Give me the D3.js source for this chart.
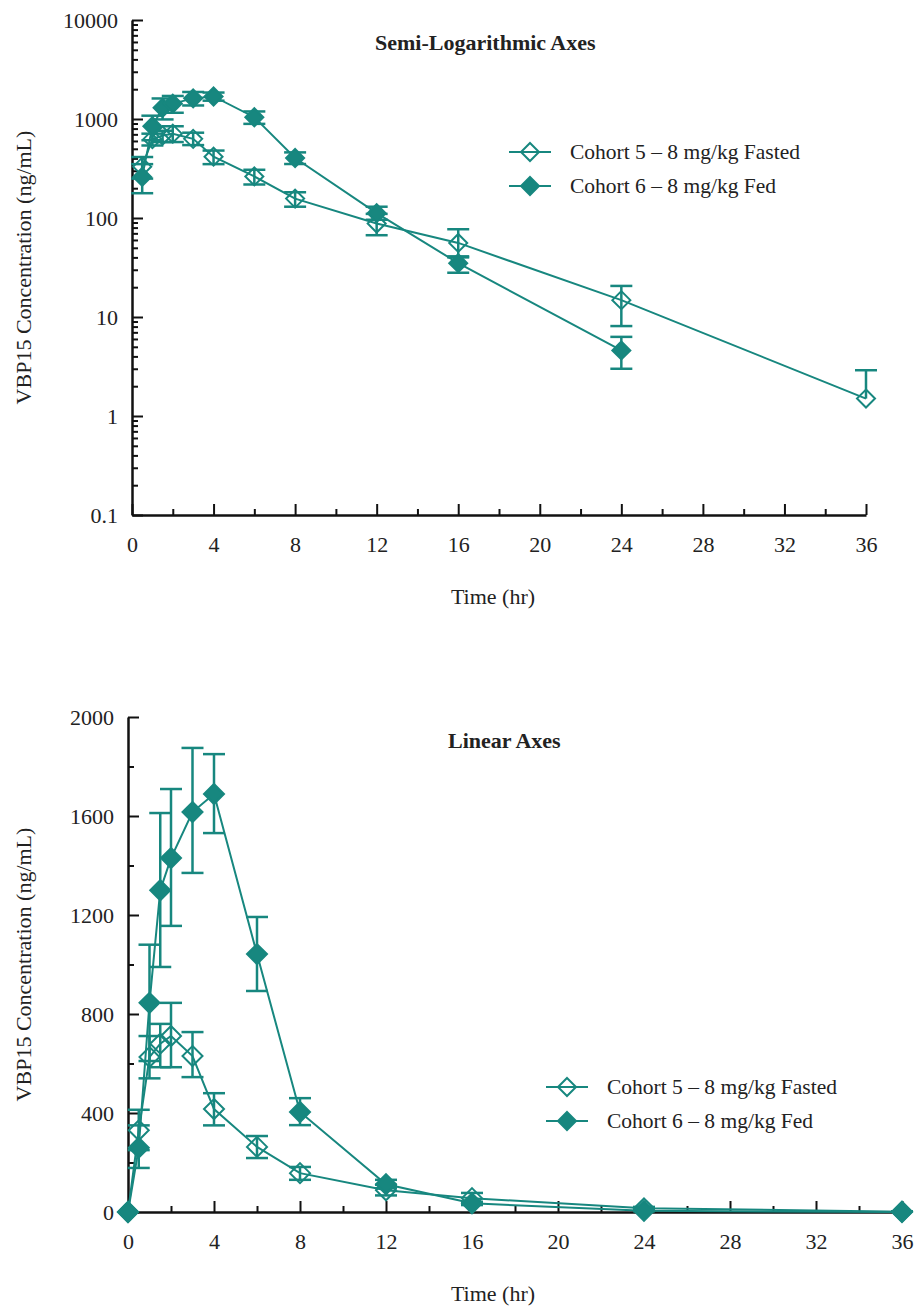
<!DOCTYPE html>
<html>
<head>
<meta charset="utf-8">
<script src="https://cdn.jsdelivr.net/npm/d3@7"></script>
<style>
  body { margin: 0; background: #fff; }
</style>
</head>
<body>
<div id="viz"></div>
<script>
// sampling times (hr)
const times = [0, 0.5, 1, 1.5, 2, 3, 4, 6, 8, 12, 16, 24, 36];
// Cohort 5 - fasted: mean and error bar ends (ng/mL)
const fastedMean = [0, 330, 626, 680, 711, 630, 416, 263, 157, 88, 56, 14.8, 1.5];
const fastedLow  = [0, 250, 540, 585, 585, 545, 350, 218, 130, 67, 40, 8.1, null];
const fastedHigh = [0, 413, 711, 760, 845, 727, 480, 307, 182, 110, 77, 20.6, 2.9];
// Cohort 6 - fed
const fedMean = [0, 260, 845, 1300, 1430, 1616, 1689, 1042, 404, 112, 35, 4.6, 0];
const fedLow  = [0, 178, 610, 990, 1156, 1370, 1531, 893, 351, 96, 28, 3.0, 0];
const fedHigh = [0, 350, 1080, 1612, 1709, 1875, 1850, 1192, 460, 130, 41, 6.3, 0];

const seriesNames = ["Cohort 5 \u2013 8 mg/kg Fasted", "Cohort 6 \u2013 8 mg/kg Fed"];
const xMajorTicks = [0, 4, 8, 12, 16, 20, 24, 28, 32, 36];
const xMinorTicks = [2, 6, 10, 14, 18, 22, 26, 30, 34];
const logTicks = [0.1, 1, 10, 100, 1000, 10000];
const linTicks = [0, 400, 800, 1200, 1600, 2000];
const linMinorTicks = [200, 600, 1000, 1400, 1800];

const teal = "#17877f";
const serif = "'Liberation Serif', 'Times New Roman', Tinos, 'DejaVu Serif', serif";

const svg = d3.select("#viz").append("svg")
  .attr("width", 918)
  .attr("height", 1307);

// build series objects from the arrays
function makeSeries(mean, low, high, filled) {
  return times.map((t, i) => ({ t: t, v: mean[i], lo: low[i], hi: high[i], filled: filled }));
}
const fasted = makeSeries(fastedMean, fastedLow, fastedHigh, false);
const fed = makeSeries(fedMean, fedLow, fedHigh, true);

function diamond(g, x, y, r, filled) {
  g.append("path")
    .attr("d", `M${x},${y - r} L${x + r},${y} L${x},${y + r} L${x - r},${y} Z`)
    .attr("fill", filled ? teal : "none")
    .attr("stroke", teal)
    .attr("stroke-width", 2);
}

function label(g, x, y, txt, size) {
  return g.append("text").attr("x", x).attr("y", y)
    .attr("font-family", serif).style("font-family", serif)
    .style("font-size", size + "px").attr("fill", "#222").text(txt);
}

function drawPanel(opt) {
  const g = svg.append("g");
  const x = d3.scaleLinear().domain([0, 36]).range([opt.x0, opt.x1]);
  const y = opt.y;

  // minor ticks
  g.append("g").attr("transform", `translate(0,${opt.yBottom})`)
    .call(d3.axisBottom(x).tickValues(xMinorTicks).tickSizeInner(-6).tickSizeOuter(0).tickFormat(""))
    .call(a => a.select(".domain").remove());
  g.append("g").attr("transform", `translate(${opt.x0},0)`)
    .call(d3.axisLeft(y).tickValues(opt.yMinor).tickSizeInner(-6).tickSizeOuter(0).tickFormat(""))
    .call(a => a.select(".domain").remove());

  // major axes
  const xa = g.append("g").attr("transform", `translate(0,${opt.yBottom})`)
    .call(d3.axisBottom(x).tickValues(xMajorTicks).tickSizeInner(-11).tickSizeOuter(0).tickPadding(21));
  const ya = g.append("g").attr("transform", `translate(${opt.x0},0)`)
    .call(d3.axisLeft(y).tickValues(opt.yTicks).tickSizeInner(-11).tickSizeOuter(0).tickPadding(14)
      .tickFormat(opt.fmt));
  g.selectAll("g").attr("font-family", serif);
  g.selectAll(".tick line").attr("stroke", "#111").attr("stroke-width", 2);
  g.selectAll(".domain").attr("stroke", "#111").attr("stroke-width", 2.5);
  g.selectAll(".tick text").style("font-family", serif).style("font-size", "22px").attr("fill", "#222");
  xa.selectAll(".tick text").attr("dy", "0.71em");

  // titles
  label(g, opt.titleX, opt.titleY, opt.title, 22)
    .style("font-weight", "bold");
  label(g, 493, opt.yBottom + 89, "Time (hr)", 22)
    .attr("text-anchor", "middle");
  label(g, 0, 0, "VBP15 Concentration (ng/mL)", 22)
    .attr("transform", `translate(31,${(y.range()[0] + y.range()[1]) / 2}) rotate(-90)`)
    .attr("text-anchor", "middle");

  // series
  [fasted, fed].forEach(s => {
    const pts = s.filter(d => opt.ok(d.v));
    const line = d3.line().x(d => x(d.t)).y(d => y(d.v));
    g.append("path").datum(pts).attr("d", line)
      .attr("fill", "none").attr("stroke", teal).attr("stroke-width", 2);
    pts.forEach(d => {
      const cx = x(d.t);
      const ends = [];
      if (d.hi != null && d.hi > d.v) ends.push(d.hi);
      if (d.lo != null && d.lo < d.v && opt.ok(d.lo)) ends.push(d.lo);
      ends.forEach(e => {
        g.append("line").attr("x1", cx).attr("x2", cx).attr("y1", y(d.v)).attr("y2", y(e))
          .attr("stroke", teal).attr("stroke-width", 2.5);
        g.append("line").attr("x1", cx - opt.cap).attr("x2", cx + opt.cap).attr("y1", y(e)).attr("y2", y(e))
          .attr("stroke", teal).attr("stroke-width", 2.5);
      });
    });
    pts.forEach(d => diamond(g, x(d.t), y(d.v), opt.r, d.filled));
  });

  // legend
  seriesNames.forEach((name, i) => {
    const ly = opt.legY + i * opt.legStep;
    g.append("line").attr("x1", opt.legX).attr("x2", opt.legX + 42).attr("y1", ly).attr("y2", ly)
      .attr("stroke", teal).attr("stroke-width", 2);
    diamond(g, opt.legX + 21, ly, 9, i === 1);
    label(g, opt.legX + 61, ly + 7, name, 21.5);
  });
}

// log minor ticks 2..9 in each decade
const logMinor = [];
[0.1, 1, 10, 100, 1000].forEach(b => { for (let k = 2; k <= 9; k++) logMinor.push(b * k); });

drawPanel({
  x0: 132, x1: 866, yBottom: 515,
  y: d3.scaleLog().domain([0.1, 10000]).range([515, 20]),
  yTicks: logTicks, yMinor: logMinor,
  fmt: d => d < 1 ? "0.1" : d3.format("d")(d),
  ok: v => v > 0,
  title: "Semi-Logarithmic Axes", titleX: 375, titleY: 50,
  r: 9, cap: 11,
  legX: 509, legY: 152, legStep: 34
});

drawPanel({
  x0: 128, x1: 902, yBottom: 1212,
  y: d3.scaleLinear().domain([0, 2000]).range([1212, 717]),
  yTicks: linTicks, yMinor: linMinorTicks,
  fmt: d3.format("d"),
  ok: v => v != null,
  title: "Linear Axes", titleX: 448, titleY: 748,
  r: 10, cap: 11,
  legX: 546, legY: 1087, legStep: 34
});
</script>
</body>
</html>
